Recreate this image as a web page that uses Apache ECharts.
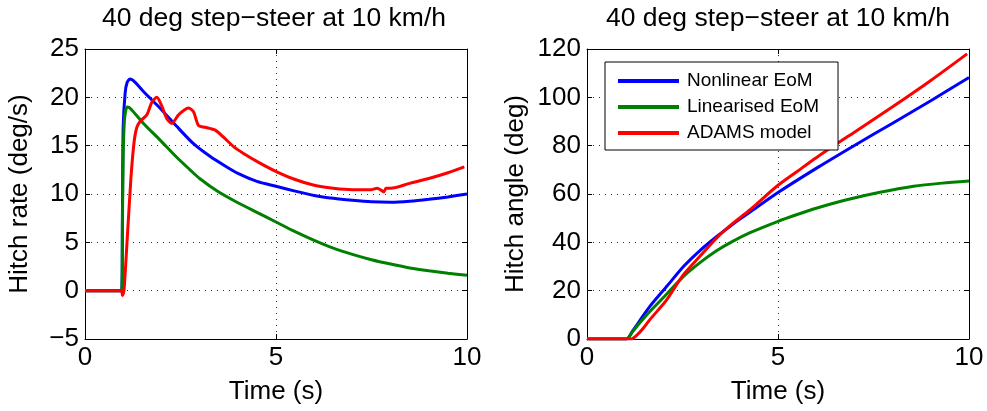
<!DOCTYPE html>
<html>
<head>
<meta charset="utf-8">
<script src="https://cdn.jsdelivr.net/npm/echarts@6/dist/echarts.min.js"></script>
<style>
  html, body { margin: 0; padding: 0; background: #fff; }
  #chart { width: 987px; height: 411px; }
</style>
</head>
<body>
<div id="chart"></div>
<script>
// hitch rate (left panel)
const rateNonlinT = [0, 0.96, 0.98, 1.0, 1.05, 1.1, 1.18, 1.3, 1.53, 1.96, 2.4, 2.84, 3.27, 3.71, 4.02, 4.5, 5.0, 5.5, 6.0, 6.5, 7.0, 7.5, 8.0, 8.5, 9.0, 9.5, 10]
const rateNonlin = [0, 0, 8, 17, 20.4, 21.5, 21.9, 21.6, 20.6, 18.9, 17.0, 15.2, 13.9, 12.8, 12.1, 11.3, 10.8, 10.3, 9.85, 9.55, 9.35, 9.2, 9.15, 9.25, 9.45, 9.7, 10.0]

const rateLinT = [0, 0.96, 0.98, 1.0, 1.03, 1.07, 1.11, 1.2, 1.53, 1.96, 2.4, 2.75, 3.0, 3.5, 4.0, 4.5, 5.0, 5.5, 6.0, 6.5, 7.0, 7.5, 8.0, 8.5, 9.0, 9.5, 10]
const rateLin = [0, 0, 7, 14, 17.5, 18.7, 19.0, 18.8, 17.3, 15.6, 13.8, 12.5, 11.6, 10.2, 9.1, 8.1, 7.1, 6.1, 5.2, 4.4, 3.75, 3.2, 2.75, 2.35, 2.05, 1.8, 1.6]

const rateAdamsT = [0, 0.95, 0.98, 1.02, 1.1, 1.2, 1.28, 1.35, 1.44, 1.62, 1.75, 1.88, 2.0, 2.14, 2.27, 2.45, 2.6, 2.71, 2.84, 2.97, 3.14, 3.41, 3.62, 3.89, 4.15, 4.58, 5.02, 5.5, 6.0, 6.5, 7.0, 7.5, 7.65, 7.75, 7.82, 7.88, 8.0, 8.5, 9.0, 9.5, 9.93]
const rateAdams = [0, 0, -0.5, 0, 5, 11.5, 15.2, 16.8, 17.5, 18.2, 19.5, 20.0, 19.2, 17.8, 17.3, 18.2, 18.7, 18.9, 18.5, 17.1, 16.9, 16.6, 15.9, 14.9, 14.2, 13.2, 12.3, 11.5, 10.9, 10.6, 10.45, 10.45, 10.6, 10.4, 10.2, 10.6, 10.6, 11.1, 11.6, 12.2, 12.8]

// hitch angle (right panel)
const angleNonlinT = [0, 1.03, 1.2, 1.4, 1.64, 2.1, 2.52, 2.95, 3.39, 3.8, 4.27, 4.97, 6, 7, 8, 9, 10]
const angleNonlin = [0, 0, 3.5, 8, 13.4, 22, 29.9, 36.5, 42.3, 47.3, 52.5, 60.3, 70.6, 80.1, 89.3, 98.6, 108.2]

const angleLinT = [0, 1.03, 1.2, 1.4, 1.64, 2.05, 2.52, 2.95, 3.39, 3.8, 4.27, 4.97, 5.5, 6, 6.8, 7.67, 8.55, 9.3, 10]
const angleLin = [0, 0, 3.2, 7, 11.3, 18, 25.8, 31.5, 36.5, 40.3, 44.0, 48.5, 51.5, 54.1, 57.6, 60.7, 63.2, 64.5, 65.4]

const angleAdamsT = [0, 1.16, 1.3, 1.45, 1.64, 2.08, 2.52, 2.95, 3.39, 3.8, 4.27, 4.97, 5.5, 6, 7, 8, 9, 9.95]
const angleAdams = [0, 0, 1.5, 4, 7.9, 16.1, 26.5, 34.1, 41.7, 47.6, 53.5, 63.2, 69.3, 75, 85.6, 96.1, 107, 118]

const seriesNames = ['Nonlinear EoM', 'Linearised EoM', 'ADAMS model']
const colors = ['#0000ff', '#008000', '#ff0000']
const titleText = '40 deg step\u2212steer at 10 km/h'

const font = '"Liberation Sans", Arial, Helvetica, sans-serif'

function pairs(t, v) {
  return t.map((x, i) => [x, v[i]])
}

function minus(v) {
  return String(v).replace('-', '\u2212')
}

function xAx(gi, pos, show) {
  return {
    type: 'value', gridIndex: gi, position: pos, min: 0, max: 10, interval: 5,
    name: show ? 'Time (s)' : '', nameLocation: 'middle', nameGap: 40,
    nameTextStyle: { fontFamily: font, fontSize: 26, color: '#000' },
    axisLine: { show: true, onZero: false, lineStyle: { color: '#000', width: 1 } },
    axisTick: { show: true, inside: true, length: 5, lineStyle: { color: '#000' } },
    axisLabel: { show: show, margin: 6, fontFamily: font, fontSize: 26, color: '#000' },
    splitLine: { show: show, lineStyle: { color: '#333', width: 1, type: [1, 5] } }
  }
}

function yAx(gi, pos, show, min, max, step, name, gap) {
  return {
    type: 'value', gridIndex: gi, position: pos, min: min, max: max, interval: step,
    name: show ? name : '', nameLocation: 'middle', nameGap: gap,
    nameTextStyle: { fontFamily: font, fontSize: 26, color: '#000' },
    axisLine: { show: true, onZero: false, lineStyle: { color: '#000', width: 1 } },
    axisTick: { show: true, inside: true, length: 5, lineStyle: { color: '#000' } },
    axisLabel: { show: show, margin: 6, fontFamily: font, fontSize: 26, color: '#000', formatter: minus },
    splitLine: { show: show, lineStyle: { color: '#333', width: 1, type: [1, 5] } }
  }
}

function line(name, color, xi, yi, data) {
  return {
    name: name, type: 'line', xAxisIndex: xi, yAxisIndex: yi,
    data: data, showSymbol: false, symbol: 'none', smooth: 0.25,
    lineStyle: { color: color, width: 3 }, itemStyle: { color: color },
    clip: true, z: 3
  }
}

const chart = echarts.init(document.getElementById('chart'))

const option = {
  backgroundColor: '#fff',
  animation: false,
  title: [
    { text: titleText, left: 97, top: 0, textStyle: { fontFamily: font, fontSize: 26.5, fontWeight: 'normal', color: '#000' } },
    { text: titleText, left: 601, top: 0, textStyle: { fontFamily: font, fontSize: 26.5, fontWeight: 'normal', color: '#000' } }
  ],
  legend: {
    data: seriesNames,
    orient: 'vertical',
    left: 605, top: 62,
    padding: [9, 19, 7, 13],
    itemGap: 6,
    itemWidth: 61, itemHeight: 4,
    icon: 'rect',
    backgroundColor: '#fff',
    borderColor: '#000', borderWidth: 1, borderRadius: 0,
    textStyle: { fontFamily: font, fontSize: 19, color: '#000', lineHeight: 20, padding: [0, 0, 0, 3] }
  },
  grid: [
    { left: 85, right: 520, top: 49, bottom: 72 },
    { left: 587, right: 18, top: 49, bottom: 72 }
  ],
  xAxis: [
    xAx(0, 'bottom', true), xAx(0, 'top', false),
    xAx(1, 'bottom', true), xAx(1, 'top', false)
  ],
  yAxis: [
    yAx(0, 'left', true, -5, 25, 5, 'Hitch rate (deg/s)', 52), yAx(0, 'right', false, -5, 25, 5, '', 0),
    yAx(1, 'left', true, 0, 120, 20, 'Hitch angle (deg)', 58), yAx(1, 'right', false, 0, 120, 20, '', 0)
  ],
  series: [
    line(seriesNames[0], colors[0], 0, 0, pairs(rateNonlinT, rateNonlin)),
    line(seriesNames[1], colors[1], 0, 0, pairs(rateLinT, rateLin)),
    line(seriesNames[2], colors[2], 0, 0, pairs(rateAdamsT, rateAdams)),
    line(seriesNames[0], colors[0], 2, 2, pairs(angleNonlinT, angleNonlin)),
    line(seriesNames[1], colors[1], 2, 2, pairs(angleLinT, angleLin)),
    line(seriesNames[2], colors[2], 2, 2, pairs(angleAdamsT, angleAdams))
  ]
}

chart.setOption(option)
</script>
</body>
</html>
